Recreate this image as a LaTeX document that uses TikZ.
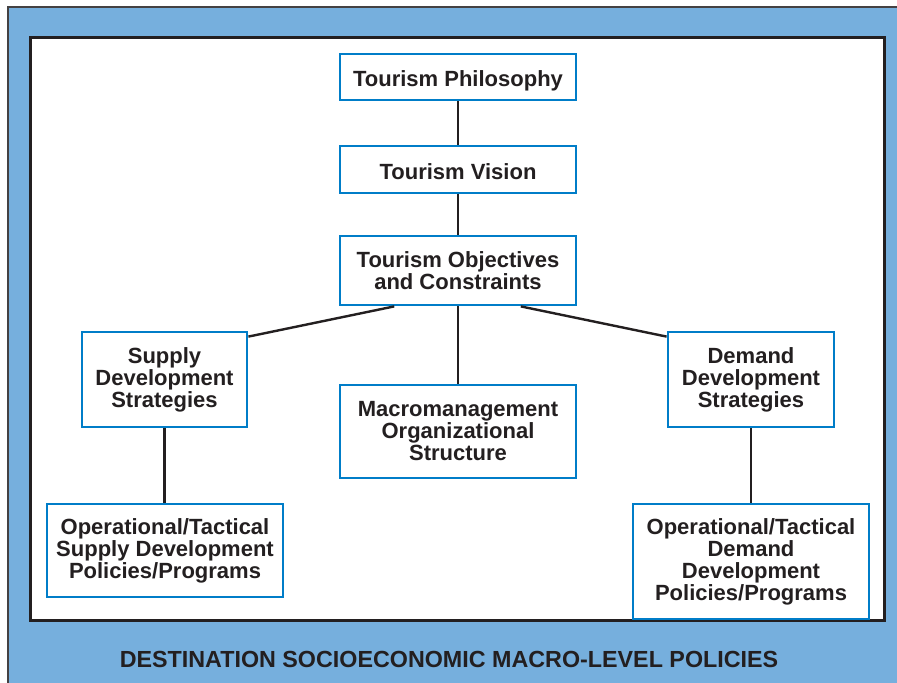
\documentclass[tikz,border=0pt]{standalone}
\usepackage{fontspec}
\setmainfont{Liberation Sans}
\usetikzlibrary{calc}
\definecolor{bgblue}{RGB}{118,175,221}
\definecolor{boxblue}{RGB}{0,125,200}
\definecolor{ink}{RGB}{35,31,32}
\tikzset{
  stagebox/.style={draw=boxblue, line width=2.8bp, fill=white, align=center,
    text=ink, inner sep=2bp,
    font=\fontsize{22bp}{22bp}\selectfont\bfseries},
  oneline/.style={text height=20bp, text depth=0bp},
  link/.style={draw=ink, line width=2.4bp},
}
\begin{document}
\begin{tikzpicture}[x=1bp,y=-1bp]
\useasboundingbox (0,0) rectangle (897,683);
% outer blue frame
\fill[bgblue] (8,7) rectangle (897,683);
\draw[ink!85, line width=2bp] (8,683) -- (8,7) -- (897,7);
% inner white panel
\draw[ink, line width=3bp, fill=white] (30,38) rectangle (884,620);
% title
\node[text=ink, font=\fontsize{23.3bp}{24bp}\selectfont\bfseries] (title) at (449,659) {DESTINATION SOCIOECONOMIC MACRO-LEVEL POLICIES};
% boxes
\node[stagebox, oneline, minimum width=236bp, minimum height=46bp] (phil) at (458,77) {Tourism Philosophy};
\node[stagebox, oneline, minimum width=236bp, minimum height=47bp] (vision) at (458,169.5) {Tourism Vision};
\node[stagebox, minimum width=236bp, minimum height=69bp] (obj) at (458,270.5) {Tourism Objectives\\and Constraints};
\node[stagebox, minimum width=165bp, minimum height=95bp] (supply) at (164.5,379.5) {Supply\\Development\\Strategies};
\node[stagebox, minimum width=236bp, minimum height=93bp] (macro) at (458,431.5) {Macromanagement\\Organizational\\Structure};
\node[stagebox, minimum width=166bp, minimum height=95bp] (demand) at (751,379.5) {Demand\\Development\\Strategies};
\node[stagebox, minimum width=236bp, minimum height=93bp] (opsup) at (165,550.5) {Operational/Tactical\\Supply Development\\Policies/Programs};
\node[stagebox, minimum width=236bp, minimum height=115bp] (opdem) at (751,561.5) {Operational/Tactical\\Demand\\Development\\Policies/Programs};
% connectors
\draw[link] (phil.south) -- (vision.north);
\draw[link] (vision.south) -- (obj.north);
\draw[link] (obj.south) -- (macro.north);
\draw[link] ($(obj.south west)!0.233!(obj.south east)$) -- ($(supply.north east)+(0,6)$);
\draw[link] ($(obj.south east)!0.237!(obj.south west)$) -- ($(demand.north west)+(0,6)$);
\draw[link] (supply.south) -- (supply.south |- opsup.north);
\draw[link] (demand.south) -- (opdem.north);
\end{tikzpicture}
\end{document}
